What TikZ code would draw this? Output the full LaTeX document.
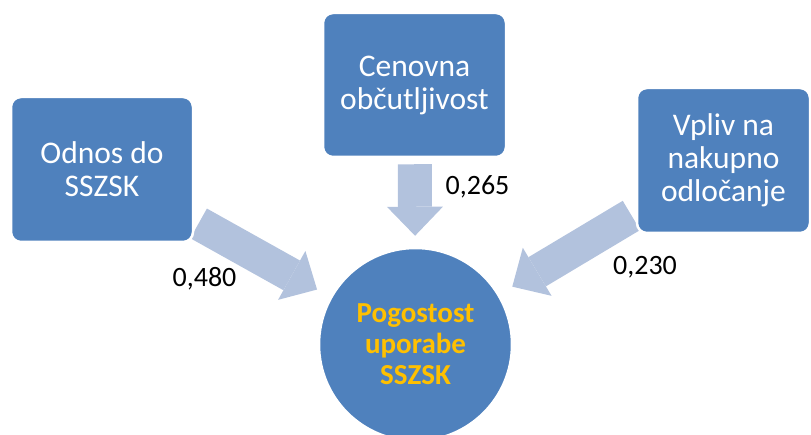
\documentclass[tikz,border=0pt]{standalone}
\usepackage{fontspec}
\setmainfont{Carlito}
\usetikzlibrary{arrows.meta, backgrounds}
\definecolor{boxblue}{HTML}{4F81BD}
\definecolor{flowblue}{RGB}{178,194,221}
\definecolor{goalgold}{HTML}{FFC000}

\begin{document}
\begin{tikzpicture}[
    x=1pt, y=1pt,
    box/.style={
        draw=white, line width=2.5pt, fill=boxblue, rounded corners=10pt,
        text=white, align=center, inner sep=0pt,
        font=\fontsize{31.5}{33}\selectfont
    },
    goal/.style={
        circle, draw=white, line width=2.5pt, fill=boxblue, minimum size=193pt,
        text=goalgold, align=center, inner sep=0pt,
        font=\fontsize{29}{31}\selectfont\bfseries
    },
    flow/.style={
        draw=flowblue, line width=34pt,
        -{Triangle[length=29pt, width=56pt, line width=0pt]},
        shorten <=5pt, shorten >=15pt
    },
    weight/.style={anchor=base, font=\fontsize{28}{30}\selectfont},
    ]
    \useasboundingbox (0,0) rectangle (811,434);
    \clip (0,0) rectangle (811,434);

    \node[box, minimum width=182pt, minimum height=145pt] (odnos) at (102,264.5) {Odnos do\\SSZSK};
    \node[box, minimum width=183pt, minimum height=144pt] (cena) at (414.5,349) {Cenovna\\občutljivost};
    \node[box, minimum width=173pt, minimum height=145pt] (vpliv) at (723.5,273.5) {Vpliv na\\nakupno\\odločanje};
    \node[goal] (pogostost) at (415.5,89.5) {Pogostost\\uporabe\\SSZSK};

    % arrows go under the boxes
    \begin{scope}[on background layer]
        \draw[flow] (odnos) -- (pogostost);
        \draw[flow, shorten <=6pt, shorten >=11pt] (cena) -- (pogostost);
        \draw[flow] (vpliv) -- (pogostost);
    \end{scope}

    \node[weight] (w1) at (204.5,147) {0,480};
    \node[weight] (w2) at (477.5,239) {0,265};
    \node[weight] (w3) at (645,159) {0,230};
\end{tikzpicture}
\end{document}
